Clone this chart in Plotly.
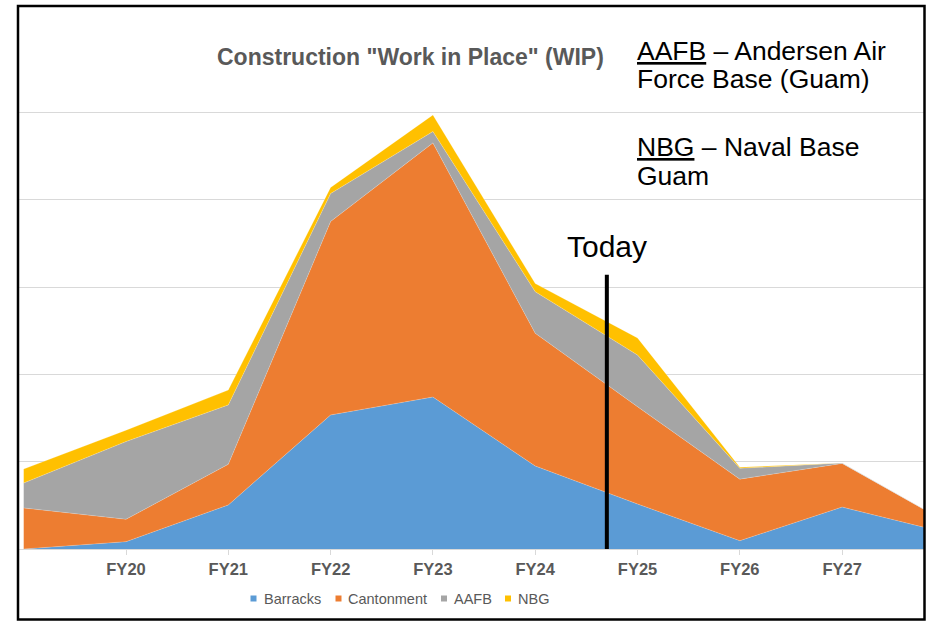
"""
Construction "Work in Place" (WIP) - stacked area chart
"""
import plotly.graph_objects as go

# category axis
fiscal_years = ["FY19", "FY20", "FY21", "FY22", "FY23", "FY24", "FY25", "FY26", "FY27", "FY28"]

# series values (one gridline = 100)
barracks = [0, 8.4, 50.4, 153.5, 174, 95, 51.5, 9.5, 48, 19]
cantonment = [47, 25.6, 46.6, 221.5, 291, 152, 111.5, 70.5, 50, 13.3]
aafb = [28.6, 89, 68, 32, 13, 47.7, 59, 12.4, 0.5, 0]
nbg = [16, 13, 17, 7, 19, 9.3, 19.7, 1.2, 0, 0]

series_names = ["Barracks", "Cantonment", "AAFB", "NBG"]
series_values = [barracks, cantonment, aafb, nbg]

# "Today" marker position (between FY24 and FY25) and its height
today_pos = 5.70
today_top = 314

COLORS = {
    'Barracks': '#5B9BD5',
    'Cantonment': '#ED7D31',
    'AAFB': '#A5A5A5',
    'NBG': '#FFC000',
    'grid': '#D9D9D9',
    'label': '#595959',
}
FONT = "Arial, 'Liberation Sans', sans-serif"

# plot area in pixels (used to place paper-referenced decorations)
PX_L, PX_R, PX_T, PX_B = 19, 925, 25, 549


def px_x(px):
    return (px - PX_L) / (PX_R - PX_L)


def px_y(py):
    return (PX_B - py) / (PX_B - PX_T)


fig = go.Figure()

for name, vals in zip(series_names, series_values):
    fig.add_trace(go.Scatter(
        x=fiscal_years,
        y=vals,
        name=name,
        mode='lines',
        stackgroup='wip',
        line=dict(width=0.6, color='rgba(255,255,255,0.35)'),
        fillcolor=COLORS[name],
        showlegend=False,
        hoverinfo='x+y+name',
    ))

# Today line
fig.add_shape(
    type='line', xref='x', yref='y',
    x0=today_pos, x1=today_pos, y0=0, y1=today_top,
    line=dict(color='black', width=4),
)

# outer frame
fig.add_shape(
    type='rect', xref='paper', yref='paper',
    x0=px_x(18), x1=px_x(924.5), y0=px_y(619.5), y1=px_y(6),
    line=dict(color='black', width=2.5),
    layer='above',
)

# legend: small square keys + labels, laid out like the original
legend_pos = [(253.5, 262), (338.5, 346), (444, 451.5), (508, 515.5)]
for name, (key_x, text_x) in zip(series_names, legend_pos):
    fig.add_shape(
        type='rect', xref='paper', yref='paper',
        x0=px_x(key_x - 3), x1=px_x(key_x + 3),
        y0=px_y(601.5), y1=px_y(595.5),
        fillcolor=COLORS[name], line=dict(width=0),
    )
    fig.add_annotation(
        text=name,
        xref='paper', yref='paper',
        x=px_x(text_x), y=px_y(599),
        xanchor='left', yanchor='middle',
        showarrow=False,
        font=dict(family=FONT, size=14.5, color=COLORS['label']),
    )

# chart title
fig.add_annotation(
    text='Construction "Work in Place" (WIP)',
    xref='paper', yref='paper',
    x=px_x(410), y=px_y(57),
    xanchor='center', yanchor='middle',
    showarrow=False,
    font=dict(family=FONT, size=23, color=COLORS['label'], weight='bold'),
)

# glossary text on the right
glossary = [
    ("<u>AAFB</u> – Andersen Air", 51),
    ("Force Base (Guam)", 79),
    ("<u>NBG</u> – Naval Base", 147),
    ("Guam", 176),
]
for txt, ypix in glossary:
    fig.add_annotation(
        text=txt,
        xref='paper', yref='paper',
        x=px_x(635), y=px_y(ypix),
        xanchor='left', yanchor='middle',
        showarrow=False,
        font=dict(family=FONT, size=26.5, color='black'),
    )

fig.add_annotation(
    text='Today',
    xref='x', yref='paper',
    x=today_pos, y=px_y(246),
    xanchor='center', yanchor='middle',
    showarrow=False,
    font=dict(family=FONT, size=30, color='black'),
)

fig.update_layout(
    width=927,
    height=622,
    margin=dict(l=PX_L, r=927 - PX_R, t=PX_T, b=622 - PX_B),
    paper_bgcolor='white',
    plot_bgcolor='white',
    font=dict(family=FONT, color=COLORS['label']),
    showlegend=False,
    hovermode='x unified',
)

fig.update_xaxes(
    type='category',
    categoryorder='array',
    categoryarray=fiscal_years,
    range=[-0.046, 8.81],
    tickvals=fiscal_years[1:],
    ticktext=fiscal_years[1:],
    showgrid=False,
    showline=True,
    linecolor=COLORS['grid'],
    linewidth=1,
    ticks='outside',
    ticklen=5,
    tickcolor=COLORS['grid'],
    tickfont=dict(family=FONT, size=16.5, color=COLORS['label'], weight='bold'),
    zeroline=False,
)

fig.update_yaxes(
    range=[0, 600],
    dtick=100,
    showgrid=True,
    gridcolor=COLORS['grid'],
    gridwidth=1,
    showticklabels=False,
    zeroline=False,
)

fig.write_html(
    "out.html",
    config={'displayModeBar': False},
    post_script="document.body.style.margin='0';",
)
